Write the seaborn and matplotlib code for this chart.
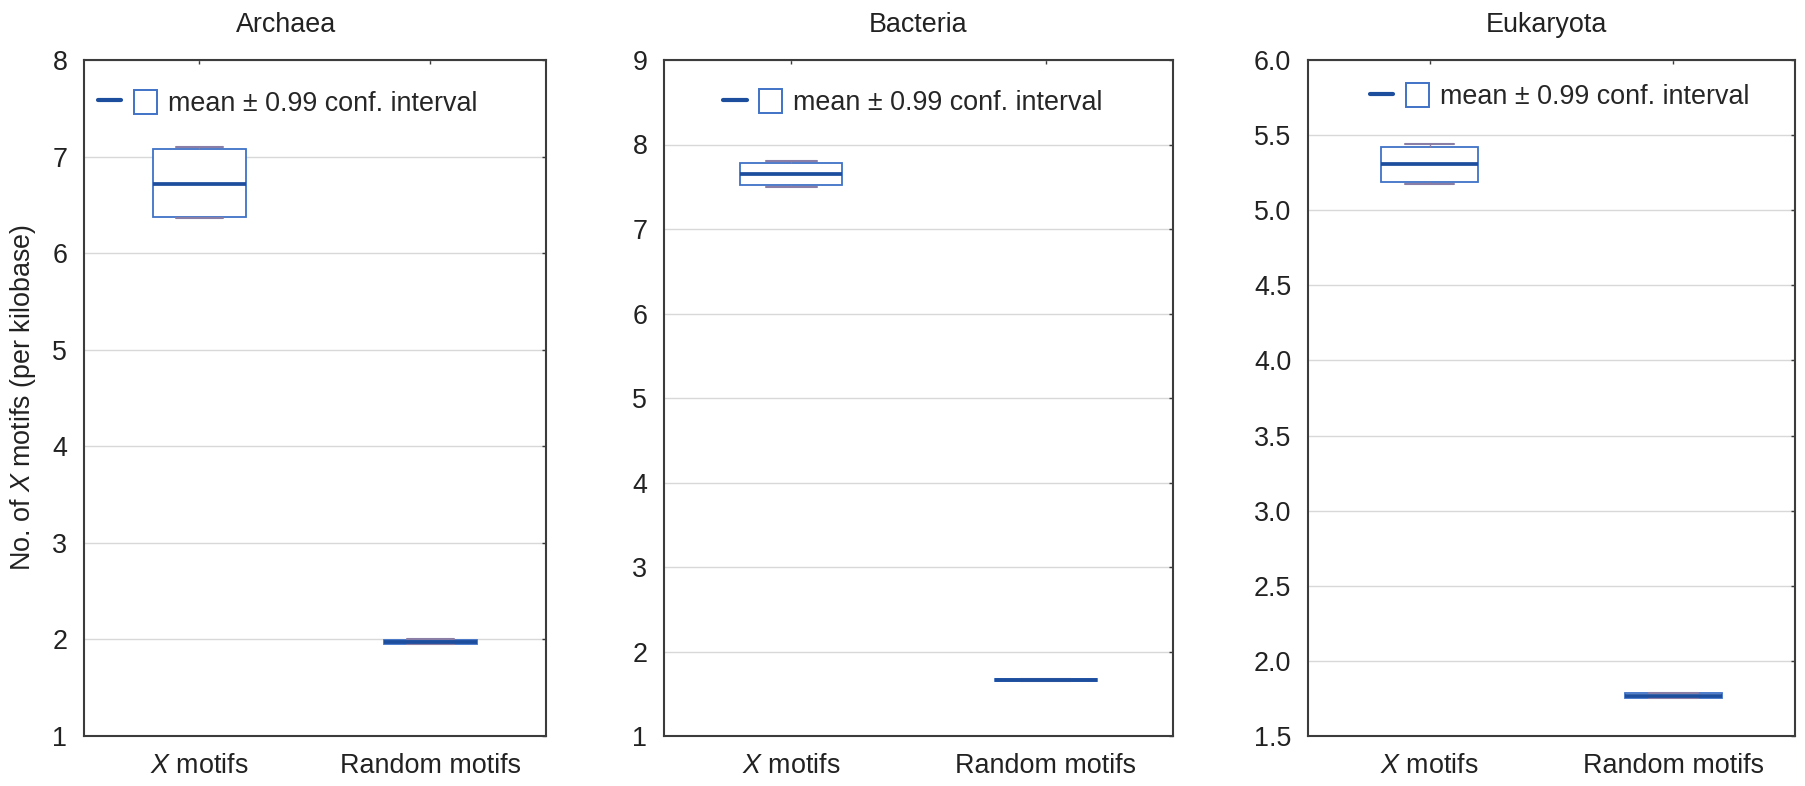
import pandas as pd
import matplotlib
matplotlib.use("Agg")
import matplotlib.pyplot as plt
from matplotlib.lines import Line2D
from matplotlib.patches import Rectangle
from matplotlib.legend_handler import HandlerTuple
import seaborn as sns

# categories
motif_groups = ["X motifs", "Random motifs"]
tick_labels = [r"$\it{X}$ motifs", "Random motifs"]

# per panel: mean, 0.99 CI bounds, small whisker ends
archaea_mean = [6.72, 1.975]
archaea_lo = [6.37, 1.955]
archaea_hi = [7.08, 1.995]
archaea_wlo = [6.36, 1.950]
archaea_whi = [7.10, 2.000]

bacteria_mean = [7.65, 1.660]
bacteria_lo = [7.52, 1.648]
bacteria_hi = [7.785, 1.672]
bacteria_wlo = [7.50, 1.646]
bacteria_whi = [7.80, 1.674]

eukaryota_mean = [5.306, 1.768]
eukaryota_lo = [5.186, 1.752]
eukaryota_hi = [5.423, 1.784]
eukaryota_wlo = [5.173, 1.750]
eukaryota_whi = [5.44, 1.786]

panels = [
    ("Archaea", archaea_mean, archaea_lo, archaea_hi, archaea_wlo, archaea_whi,
     (1, 8), [1, 2, 3, 4, 5, 6, 7, 8], "%d"),
    ("Bacteria", bacteria_mean, bacteria_lo, bacteria_hi, bacteria_wlo, bacteria_whi,
     (1, 9), [1, 2, 3, 4, 5, 6, 7, 8, 9], "%d"),
    ("Eukaryota", eukaryota_mean, eukaryota_lo, eukaryota_hi, eukaryota_wlo, eukaryota_whi,
     (1.5, 6.0), [1.5, 2.0, 2.5, 3.0, 3.5, 4.0, 4.5, 5.0, 5.5, 6.0], "%.1f"),
]

sns.set_style("white")
plt.rcParams["font.family"] = ["Liberation Sans", "DejaVu Sans"]
plt.rcParams["mathtext.fontset"] = "custom"
plt.rcParams["mathtext.it"] = "Liberation Sans:italic"
plt.rcParams["mathtext.rm"] = "Liberation Sans"

box_blue = "#4072c6"
mean_blue = "#1d4e9e"
cap_col = "#8a7da6"
spine_col = "#3c3c3c"
fs = 19.4

fig = plt.figure(figsize=(18.06, 7.86), dpi=100)
W, H = 1806, 786
ax_px = [(84, 546), (664, 1173), (1308, 1795)]
top_px, bot_px = 60, 736
title_x = [0.437, 0.5, 0.49]
leg_x = [0.03, 0.116, 0.127]
leg_y = [0.936, 0.937, 0.946]

for i, (name, mean, lo, hi, wlo, whi, ylim, yticks, fmt) in enumerate(panels):
    l, r = ax_px[i]
    ax = fig.add_axes([l / W, 1 - bot_px / H, (r - l) / W, (bot_px - top_px) / H])

    rows = []
    for g, m, a, b, wa, wb in zip(motif_groups, mean, lo, hi, wlo, whi):
        for v in (wa, a, m, b, wb):
            rows.append({"motif": g, "value": v})
    df = pd.DataFrame(rows)

    ax.yaxis.grid(True, color="#d8d8d8", lw=1.0)
    ax.set_axisbelow(True)
    sns.boxplot(data=df, x="motif", y="value", order=motif_groups, ax=ax,
                width=0.4, whis=(0, 100), showfliers=False, fill=True,
                boxprops=dict(facecolor="white", edgecolor=box_blue, linewidth=1.3),
                medianprops=dict(color=mean_blue, linewidth=2.7),
                whiskerprops=dict(color=cap_col, linewidth=1.0),
                capprops=dict(color=cap_col, linewidth=1.5))

    ax.set_xlim(-0.5, 1.5)
    ax.set_ylim(*ylim)
    ax.set_yticks(yticks)
    ax.set_yticklabels([fmt % t for t in yticks])
    ax.set_xticks([0, 1])
    ax.set_xticklabels(tick_labels)
    ax.set_xlabel("")
    ax.set_ylabel("")
    ax.tick_params(axis="both", direction="in", length=3, width=1.0, color=spine_col,
                   labelsize=fs, top=True, right=True, colors="#222222")
    ax.tick_params(axis="y", pad=12)
    ax.tick_params(axis="x", pad=12)
    for s in ax.spines.values():
        s.set_visible(True)
        s.set_color(spine_col)
        s.set_linewidth(1.5)

    ax.text(title_x[i], 1 + 35 / (bot_px - top_px), name, transform=ax.transAxes,
            ha="center", va="center", fontsize=fs, color="#222222")

    h_line = Line2D([0], [0], color=mean_blue, lw=3)
    h_box = Rectangle((0, 0), 1, 1, facecolor="white", edgecolor=box_blue, lw=1.4)
    ax.legend([(h_line, h_box)], ["mean \u00b1 0.99 conf. interval"],
              handler_map={tuple: HandlerTuple(ndivide=None, pad=0.45)},
              loc="center left", bbox_to_anchor=(leg_x[i], leg_y[i]),
              frameon=False, fontsize=fs, handlelength=2.2, handleheight=1.0,
              handletextpad=0.4, borderpad=0, borderaxespad=0)

    if i == 0:
        ax.set_ylabel(r"No. of $\it{X}$ motifs (per kilobase)", fontsize=fs, color="#222222")
        ax.yaxis.set_label_coords(-0.10, 0.5)

fig.savefig("out.png", dpi=100)
